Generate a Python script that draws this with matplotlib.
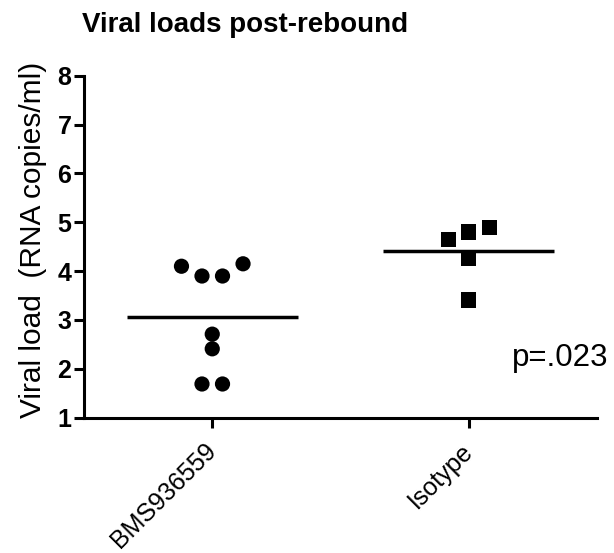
import numpy as np
import matplotlib
matplotlib.use("Agg")
import matplotlib.pyplot as plt
import matplotlib.transforms as mtransforms

plt.rcParams['font.family'] = ['Liberation Sans', 'DejaVu Sans']

# data
groups = ["BMS936559", "Isotype"]
bms_values = [4.10, 3.90, 3.90, 4.15, 2.71, 2.41, 1.69, 1.69]
isotype_values = [4.65, 4.80, 4.90, 4.27, 3.41]
p_text = "p=.023"
title = "Viral loads post-rebound"
ylabel = "Viral load  (RNA copies/ml)"
yticks = [1, 2, 3, 4, 5, 6, 7, 8]


def column_offsets(values, gap=0.28, slot=0.08):
    """Spread points that sit at nearly the same height side by side."""
    values = np.asarray(values)
    order = np.argsort(values, kind="stable")
    clusters = [[order[0]]]
    for prev, cur in zip(order[:-1], order[1:]):
        if values[cur] - values[prev] < gap:
            clusters[-1].append(cur)
        else:
            clusters.append([cur])
    offsets = np.zeros(len(values))
    for c in clusters:
        c = sorted(c)
        n = len(c)
        for k, idx in enumerate(c):
            offsets[idx] = (k - (n - 1) / 2) * slot
    return offsets


fig = plt.figure(figsize=(6.14, 5.53), dpi=100)
ax = fig.add_axes([84 / 614, 1 - 417.7 / 553, (597 - 84) / 614, (417.7 - 75.7) / 553])

for i, (vals, marker) in enumerate([(bms_values, "o"), (isotype_values, "s")]):
    xpos = i + 1
    offs = column_offsets(vals)
    ax.scatter(xpos + offs, vals, marker=marker, s=120, color="black",
               edgecolors="none", zorder=3)
    ax.hlines(np.mean(vals), xpos - 0.333, xpos + 0.333, color="black", lw=2.5)

ax.set_xlim(0.5, 2.5)
ax.set_ylim(1, 8)
ax.set_yticks(yticks)
ax.set_xticks([1, 2])
ax.set_xticklabels([])
# rotated group labels, nudged to sit like the original
shift = mtransforms.ScaledTranslation(9 / 100, -21 / 100, fig.dpi_scale_trans)
for i, g in enumerate(groups):
    ax.text(i + 1, 0, g, rotation=45, ha="right", va="top", fontsize=18,
            transform=ax.get_xaxis_transform() + shift, clip_on=False)
for lab in ax.get_yticklabels():
    lab.set_fontsize(18)
    lab.set_fontweight("bold")

for side in ["top", "right"]:
    ax.spines[side].set_visible(False)
for side in ["left", "bottom"]:
    ax.spines[side].set_linewidth(2.2)
ax.tick_params(axis="both", width=2.2, length=7, direction="out")
ax.tick_params(axis="y", pad=2)

ax.set_ylabel(ylabel, fontsize=21.5)
ax.yaxis.set_label_coords(-0.072, 0.52)
ax.text(2.17, 2.06, p_text, fontsize=22.5, ha="left", va="baseline")

fig.text(245 / 614, 1 - 32 / 553, title, fontsize=20, fontweight="bold",
         ha="center", va="baseline")

fig.savefig("out.png", dpi=100)
